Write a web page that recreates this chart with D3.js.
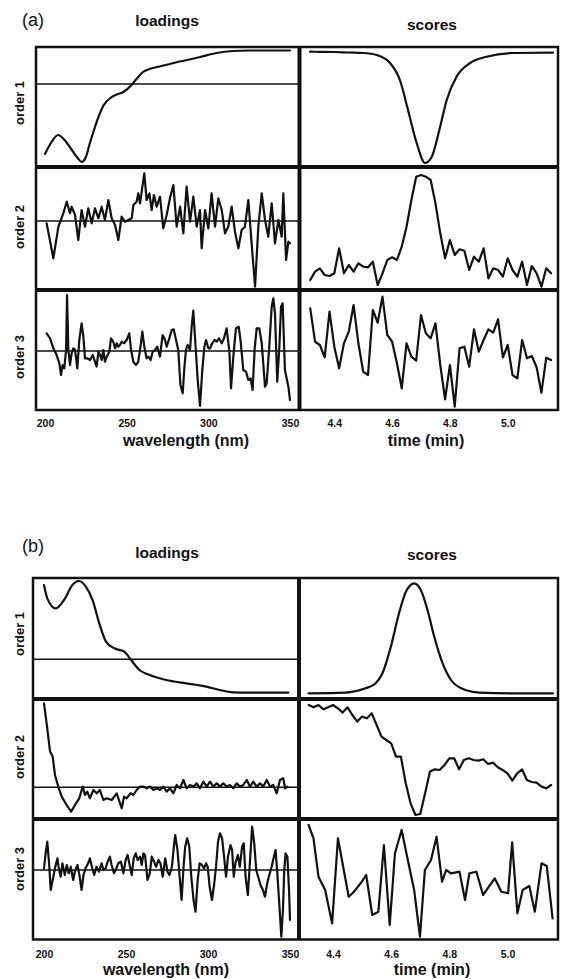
<!DOCTYPE html>
<html><head><meta charset="utf-8">
<script src="https://cdn.jsdelivr.net/npm/d3@7"></script>
<style>
body{margin:0;background:#fff}
svg{display:block}
text{font-family:"Liberation Sans",Arial,Helvetica,sans-serif;fill:#111}
</style>
</head><body>
<svg id="chart" width="561" height="979"></svg>
<script>
// ---------------- DATA ----------------
const wavelengthTicks = [200, 250, 300, 350];
const timeTicks = [4.4, 4.6, 4.8, 5.0];
const timeTickLabels = ["4.4", "4.6", "4.8", "5.0"];
const rowLabels = ["order 1", "order 2", "order 3"];
const columnTitles = ["loadings", "scores"];
const partLabels = ["(a)", "(b)"];
const axisTitles = ["wavelength (nm)", "time (min)"];
// score sampling: one spectrum per second
const scoreTimes = d3.range(51).map(i => 4.3167 + i / 60);

// (a) order 1
const a1LoadWl = [200,204,208,212,216,220,222.5,225,227.5,230,232.5,236,240,244,248,253,256,260,264,268.6,275,280,287,295,305,315,325,335,350];
const a1LoadVal = [-7.0,-5.8,-5.1,-5.6,-6.5,-7.4,-7.8,-7.3,-5.9,-4.6,-3.4,-2.1,-1.4,-1.05,-0.8,-0.1,0.5,1.2,1.5,1.7,1.95,2.15,2.4,2.7,3.1,3.3,3.35,3.35,3.35];
const a1ScoreT = [4.316,4.35,4.40,4.45,4.50,4.547,4.593,4.627,4.655,4.685,4.714,4.737,4.766,4.789,4.823,4.870,4.927,5.018,5.157];
const a1ScoreVal = [3.23,3.22,3.2,3.15,3.1,2.9,2.1,0.4,-2.6,-5.9,-7.9,-7.3,-4.3,-1.6,0.73,2.1,2.73,3.1,3.13];

// (a) order 2
const a2LoadWl = [201,205.1,208.2,211.2,213.3,215.3,216.3,218.4,220.4,222.4,224.5,226.5,228.6,230.6,232.7,234.7,236.7,238.8,240.8,242.9,244.9,246.9,249,251,253.1,254.1,256.1,257.1,258.2,259.2,260.8,262.2,263.9,265.3,266.7,268.4,270.4,272.4,274.5,276.5,278.6,280.6,282.7,284.7,286.7,288.8,290.8,292.9,294.9,295.9,298,300,302,304.1,306.1,308.2,310.2,312.2,314.3,316.3,318.4,320.4,322.4,324.5,326.5,328.6,330.6,332.7,334.7,336.7,338.8,340.8,342.9,344.9,345.9,347.6,349,350];
const a2LoadVal = [-0.23,-3.73,-0.57,0.77,1.93,0.77,1.43,0.6,-1.9,1.1,-0.57,1.27,-0.23,1.27,0.27,1.43,0.1,2.1,0.27,-0.4,-1.9,0.43,-0.07,0.1,0.27,1.6,1.93,2.77,1.77,2.93,4.77,2.1,2.77,1.1,2.6,1.43,2.43,-0.73,0.6,2.27,3.6,-0.57,1.43,-1.23,3.43,-0.07,2.43,-0.57,1.1,-2.73,1.1,-0.73,2.77,-0.57,2.27,1.1,-1.23,-0.57,1.43,-1.07,-2.73,-0.9,-0.57,2.1,-2.23,-6.57,-0.57,2.77,0.1,-1.57,1.77,-2.23,0.1,-1.57,2.77,-3.9,-2.07,-2.23];
const a2ScoreVal = [-5.9,-5.07,-4.73,-5.4,-5.5,-5.23,-2.73,-5.23,-4.4,-5.07,-4.23,-4.57,-4.63,-4.07,-6.4,-5.23,-3.9,-3.63,-3.9,-2.57,-0.57,2.1,4.43,4.6,4.43,4.1,1.77,-1.23,-3.73,-1.9,-3.4,-2.83,-2.97,-4.9,-3.57,-4.07,-2.73,-5.73,-4.73,-4.9,-5.57,-3.73,-4.9,-5.57,-4.07,-6.4,-4.5,-5.23,-6.57,-4.73,-5.23];

// (a) order 3
const a3LoadWl = [201,203.1,205.1,207.1,208.8,209.8,210.8,211.8,212.9,213.5,214.3,215.3,216.3,217.3,218.4,219.8,221,222.4,223.5,224.5,225.9,227.6,229.2,230.6,231.6,232.7,233.7,234.7,235.7,236.7,237.8,239.4,240.4,241.8,242.9,243.9,244.9,245.9,246.9,248.4,250,251.6,252.7,254.1,255.7,257.1,258.6,259.6,260.8,262.2,263.3,264.7,265.9,267.3,268.8,270.4,272,273.5,274.5,276.1,277.6,278.8,280,281.6,282.9,284.3,285.3,286.3,287.3,288.8,289.8,290.8,292.2,293.5,294.9,296.3,297.6,298.6,300,301,302.4,303.7,305.1,306.5,308.2,309.6,311.2,312.9,313.9,315.3,316.9,318.6,319.8,321.4,323.1,324.5,325.9,327.1,328.4,329.6,331.2,332.7,334.7,335.7,337.3,338.8,339.8,340.8,342.2,343.5,344.5,345.5,346.9,349,350];
const a3LoadVal = [1.77,1.27,0.27,-0.4,-1.23,-2.4,-1.4,-1.73,0.1,5.6,0.1,-1.4,-0.23,0.27,0.1,-1.73,1.1,2.77,1.43,-0.73,-0.73,-0.9,-0.4,-1.07,-1.57,-0.07,-0.4,-0.9,0.1,-1.07,-0.57,-0.07,1.27,0.93,0.27,0.77,0.43,0.6,0.93,0.77,1.1,1.77,0.1,-1.07,-1.4,-1.07,0.6,1.93,0.43,-0.73,-0.57,-0.9,-0.07,0.1,0.43,-0.57,1.6,1.1,0.43,1.27,2.1,2.17,1.27,0.1,-3.4,-4.23,-1.73,0.1,0.6,0.1,2.43,4.03,0.43,-2.9,-5.5,-1.9,0.43,1.1,0.27,0.27,0.77,1.1,0.93,1.27,0.77,1.27,2.27,-0.07,-3.73,-0.57,2.27,2.43,0.93,-1.9,-2.07,-2.9,-2.73,-3.9,0.27,2.27,2.27,0.77,-3.57,-3.23,0.43,4.43,5.27,3.77,-3.07,0.43,4.43,4.77,-1.9,-3.57,-4.9];
const a3ScoreVal = [4.27,0.93,0.6,-0.63,3.93,0.43,-1.73,0.77,1.93,4.6,0.77,-2.07,-2.4,4.1,2.83,5.43,1.6,0.93,-1.23,-3.73,0.77,-0.57,-0.97,3.6,1.77,1.27,2.77,-1.4,-4.83,-1.4,-5.57,0.27,0.43,-1.57,2.17,-0.07,1.1,2.17,1.83,3.17,-0.63,0.6,-2.4,-2.73,1.1,-0.73,-0.5,-1.63,-4.17,-0.67,-0.9];

// (b) order 1
const b1LoadWl = [200,202,207.1,212.2,217.3,221.4,225.5,229.6,233.7,237.8,242.9,249,253.1,258.2,263.3,274.5,286.7,299,307.1,315.3,325.5,349];
const b1LoadVal = [7.43,6.1,5.1,5.93,7.43,7.83,7.27,5.93,3.6,1.77,1.1,0.77,-0.07,-1.07,-1.5,-2.07,-2.4,-2.73,-3.07,-3.3,-3.33,-3.33];
const b1ScoreT = [4.316,4.443,4.512,4.547,4.57,4.599,4.627,4.651,4.679,4.702,4.725,4.748,4.777,4.806,4.841,4.904,5.019,5.157];
const b1ScoreVal = [-3.4,-3.33,-2.9,-2.4,-1.4,1.27,4.6,6.77,7.6,6.93,4.93,2.27,-0.4,-2.07,-2.9,-3.33,-3.4,-3.4];

// (b) order 2
const b2LoadWl = [200,201.6,203.7,205.3,206.7,208.7,210.8,213.8,216.5,218.9,221.5,223.6,225,226.4,228,230.1,232.1,234.1,236.2,238.2,241.3,244.3,247.4,248.8,250.4,252.8,254.5,256.5,258.5,260.6,262.6,264.6,266.7,268.7,270.7,272.8,274.8,276.8,278.9,280.9,282.9,285,287,289,291.1,293.1,295.1,297.2,299.2,301.2,303.3,305.3,307.3,309.3,311.4,313.4,315.4,317.5,319.5,321.5,323.6,325.6,327.6,329.7,331.7,333.7,335.8,337.8,339.8,341.9,343.9,345.9,347,348.4];
const b2LoadVal = [8.4,6.4,3.57,3.07,1.23,0.07,-0.93,-1.77,-2.43,-1.77,-1.1,0.07,-0.77,-0.43,-1.1,-0.27,-0.6,-0.27,-1.27,-1.1,-1.27,-0.6,-2.1,-0.93,-1.1,-0.6,-0.77,-0.27,0.07,0.07,-0.1,0.07,-0.27,-0.1,-0.27,0.07,-0.43,-0.1,-0.6,0.23,-0.1,0.73,-0.1,0.23,0.07,0.4,-0.1,0.57,0.07,0.57,0.07,0.4,0.07,0.4,0.07,0.23,-0.1,0.4,0.07,0.23,0.73,0.07,0.57,0.07,0.4,0.07,0.73,0.07,0.23,-0.6,0.73,0.9,-0.1,0.07];
const b2ScoreVal = [8.23,8.0,8.23,7.8,8.0,8.23,7.9,7.47,8.0,7.23,6.57,7.07,6.9,7.4,6.23,5.07,4.73,4.4,3.07,3.07,0.4,-1.6,-2.77,-2.67,-0.6,1.57,1.8,1.73,2.23,2.9,2.9,1.8,2.73,2.9,2.73,2.67,2.8,2.33,2.47,2.0,1.73,1.4,0.67,1.4,1.8,0.73,0.53,0.47,0.07,-0.1,0.23];

// (b) order 3
const b3LoadWl = [200,201,202,203.1,204.1,205.5,206.9,208.2,209,210.2,211.2,212.7,213.9,215.1,216.3,217.8,218.8,220.4,221.6,222.9,224.1,225.3,226.9,228,229.4,230.6,232,233.5,235.1,236.3,237.6,238.8,240.2,241.2,242.7,244.1,245.3,246.9,248.4,249.8,251,252.2,253.5,254.7,255.9,257.1,258.6,259.6,260.6,261.6,263.1,264.5,265.7,267.1,268.4,269.8,271,272.4,273.9,275.3,276.5,278,279.2,280,281.4,282.7,283.9,285.1,286.1,287.3,288.6,289.8,291.2,292.4,293.7,294.9,296.3,297.6,298.8,299.8,301,302.4,303.7,304.9,306.1,307.3,308.6,309.8,311,312.2,313.7,314.7,315.7,316.7,318.2,319.4,320.8,321.8,322.9,324.3,325.9,326.9,328.2,329.4,330.6,332,333.5,334.7,336.1,337.1,338.8,340.2,341.2,342.4,343.7,344.7,345.7,346.5,347.3,348.4,349.4,350];
const b3LoadVal = [0.17,1.67,2.83,0.67,-2.0,-0.83,0.33,1.17,0.17,-0.67,0.67,-0.5,0.5,-0.33,0.33,-1.0,-0.17,0.5,-0.5,-2.0,-0.5,0.17,0.67,1.17,0.17,-0.5,0.33,-0.17,0.67,0.0,0.17,0.83,1.33,0.5,-0.33,0.17,0.67,0.83,-0.33,1.0,1.5,0.5,-0.5,1.17,1.67,1.0,1.33,0.5,1.67,1.5,-1.0,-0.33,1.33,0.83,0.33,1.0,0.67,-0.67,1.17,-0.17,-0.5,0.33,2.33,3.5,2.0,-0.67,-3.0,0.33,2.33,3.17,2.33,-0.67,-3.0,-4.17,-1.0,0.67,0.5,0.17,0.67,0.33,-1.67,-3.0,-1.5,0.33,2.83,3.67,3.17,1.33,-0.67,1.33,2.5,2.0,-0.67,0.67,1.5,0.33,2.33,2.67,-0.67,-2.5,1.67,4.33,2.67,0.0,-0.67,-1.5,-2.0,-2.67,-1.33,-0.67,0.33,1.33,2.0,-0.67,-4.0,-6.67,-4.0,0.0,1.67,1.33,-2.0,-5.0];
const b3ScoreT = [4.316,4.333,4.350,4.373,4.397,4.417,4.454,4.472,4.495,4.514,4.535,4.556,4.575,4.595,4.613,4.636,4.656,4.679,4.699,4.716,4.737,4.756,4.775,4.789,4.806,4.835,4.854,4.869,4.893,4.916,4.936,4.956,4.979,5.002,5.016,5.034,5.052,5.075,5.094,5.117,5.135,5.155];
const b3ScoreVal = [4.5,3.17,-0.67,-2.0,-5.33,3.17,-2.67,-2.17,-1.33,-0.5,-4.5,-4.17,2.5,-5.5,1.67,4.0,1.17,-2.0,-6.67,0.0,1.0,3.33,-1.17,0.0,-0.33,-0.17,-3.0,-0.33,-0.17,-2.5,-1.67,-0.83,-2.17,-2.33,2.77,-4.33,-2.0,-1.6,-4.17,0.67,0.4,-4.83];

// ---------------- LAYOUT ----------------
const parts = [
  { label: partLabels[0], labelPos: [22, 26], titleY: [26, 30],
    left: 36, mid: 299.5, right: 558, rows: [47, 167, 290, 410],
    yDomains: [[-8.3, 3.7], [-6.9, 5.4], [-5.9, 6.1]],
    wlRange: [45, 290], tRange: [334.3, 507.7], rowLabelY: [103, 227, 357],
    tickPad: 10, axisTitleY: 446, axisTitleX: [186, 426],
    loadings: [[a1LoadWl, a1LoadVal, true], [a2LoadWl, a2LoadVal, false], [a3LoadWl, a3LoadVal, false]],
    scores: [[a1ScoreT, a1ScoreVal, true], [scoreTimes, a2ScoreVal, false], [scoreTimes, a3ScoreVal, false]] },
  { label: partLabels[1], labelPos: [22, 552], titleY: [558, 560],
    left: 33, mid: 299, right: 558, rows: [578, 699, 819, 939.5],
    yDomains: [[-3.97, 8.13], [-3.17, 8.83], [-6.95, 5.1]],
    wlRange: [44, 290], tRange: [333, 507.5], rowLabelY: [634, 757, 869],
    tickPad: 11, axisTitleY: 975, axisTitleX: [166, 432],
    loadings: [[b1LoadWl, b1LoadVal, true], [b2LoadWl, b2LoadVal, false], [b3LoadWl, b3LoadVal, false]],
    scores: [[b1ScoreT, b1ScoreVal, true], [scoreTimes, b2ScoreVal, false], [b3ScoreT, b3ScoreVal, false]] }
];

const svg = d3.select("#chart");
svg.append("rect").attr("width", 561).attr("height", 979).attr("fill", "#fff");

parts.forEach(p => {
  const g = svg.append("g");
  const xL = d3.scaleLinear().domain([200, 350]).range(p.wlRange);
  const xS = d3.scaleLinear().domain([4.4, 5.0]).range(p.tRange);

  // headings
  g.append("text").attr("x", p.labelPos[0]).attr("y", p.labelPos[1])
    .attr("font-size", 18).text(p.label);
  g.append("text").attr("x", 167).attr("y", p.titleY[0])
    .attr("text-anchor", "middle").attr("font-size", 15.5).attr("font-weight", "bold").text(columnTitles[0]);
  g.append("text").attr("x", 432).attr("y", p.titleY[1])
    .attr("text-anchor", "middle").attr("font-size", 15.5).attr("font-weight", "bold").text(columnTitles[1]);

  for (let r = 0; r < 3; r++) {
    const y = d3.scaleLinear().domain(p.yDomains[r]).range([p.rows[r + 1], p.rows[r]]);
    // zero line in loadings panel
    g.append("line").attr("x1", p.left).attr("x2", p.mid)
      .attr("y1", y(0)).attr("y2", y(0))
      .attr("stroke", "#111").attr("stroke-width", 1.5);

    const [lw, lv, lsmooth] = p.loadings[r];
    const lData = lw.map((w, i) => [w, lv[i]]).filter(d => d[1] !== undefined);
    g.append("path").datum(lData)
      .attr("fill", "none").attr("stroke", "#111").attr("stroke-width", 2.2)
      .attr("stroke-linejoin", "round").attr("stroke-linecap", "round")
      .attr("d", d3.line().x(d => xL(d[0])).y(d => y(d[1]))
        .curve(lsmooth ? d3.curveMonotoneX : d3.curveLinear));

    const [st, sv, ssmooth] = p.scores[r];
    const sData = st.map((t, i) => [t, sv[i]]).filter(d => d[1] !== undefined);
    g.append("path").datum(sData)
      .attr("fill", "none").attr("stroke", "#111").attr("stroke-width", 2.2)
      .attr("stroke-linejoin", "round").attr("stroke-linecap", "round")
      .attr("d", d3.line().x(d => xS(d[0])).y(d => y(d[1]))
        .curve(ssmooth ? d3.curveMonotoneX : d3.curveLinear));

    // row label
    g.append("text")
      .attr("transform", `translate(24,${p.rowLabelY[r]}) rotate(-90)`)
      .attr("text-anchor", "middle").attr("font-size", 13).attr("font-weight", "bold")
      .text(rowLabels[r]);
  }

  // frame
  const top = p.rows[0], bot = p.rows[3];
  g.append("rect").attr("x", p.left).attr("y", top)
    .attr("width", p.right - p.left).attr("height", bot - top)
    .attr("fill", "none").attr("stroke", "#111").attr("stroke-width", 2.5);
  [p.rows[1], p.rows[2]].forEach(yy => {
    g.append("line").attr("x1", p.left).attr("x2", p.right).attr("y1", yy).attr("y2", yy)
      .attr("stroke", "#111").attr("stroke-width", 4);
  });
  g.append("line").attr("x1", p.mid).attr("x2", p.mid).attr("y1", top).attr("y2", bot)
    .attr("stroke", "#111").attr("stroke-width", 4);

  // axes
  const axL = g.append("g").attr("transform", `translate(0,${bot})`)
    .call(d3.axisBottom(xL).tickValues(wavelengthTicks).tickSize(0).tickPadding(p.tickPad).tickFormat(d3.format("d")));
  const axS = g.append("g").attr("transform", `translate(0,${bot})`)
    .call(d3.axisBottom(xS).tickValues(timeTicks).tickSize(0).tickPadding(p.tickPad).tickFormat((d, i) => timeTickLabels[i]));
  [axL, axS].forEach(ax => {
    ax.select(".domain").remove();
    ax.selectAll("text").attr("font-size", 10.5).attr("font-weight", "bold")
      .attr("fill", "#111").attr("font-family", '"Liberation Sans",Arial,sans-serif');
  });

  g.append("text").attr("x", p.axisTitleX[0]).attr("y", p.axisTitleY)
    .attr("text-anchor", "middle").attr("font-size", 16).attr("font-weight", "bold").text(axisTitles[0]);
  g.append("text").attr("x", p.axisTitleX[1]).attr("y", p.axisTitleY)
    .attr("text-anchor", "middle").attr("font-size", 16).attr("font-weight", "bold").text(axisTitles[1]);
});
</script>
</body></html>
